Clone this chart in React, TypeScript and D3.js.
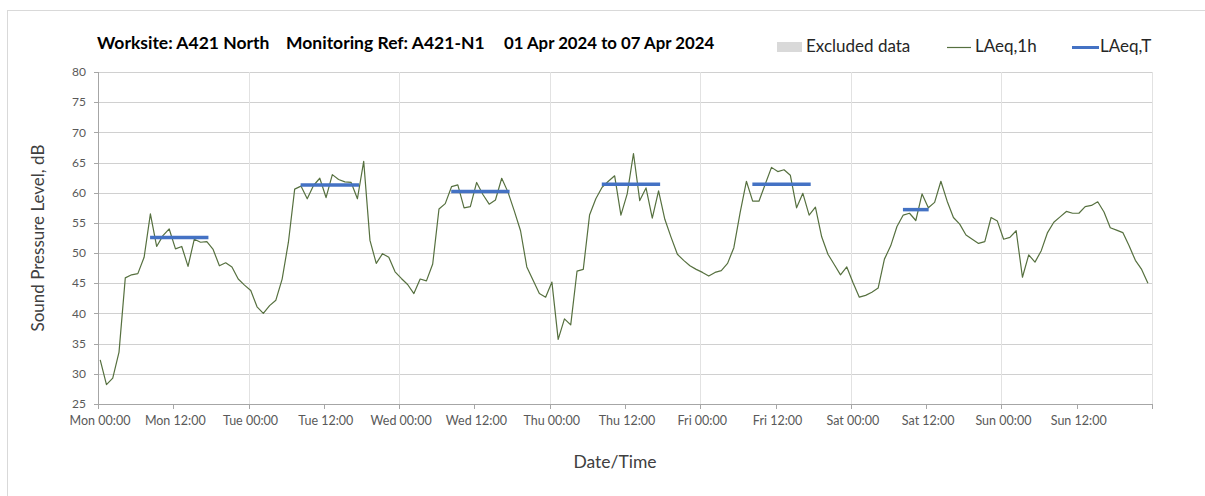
import React from "react";
import * as d3 from "d3";

// ---------- data ----------
const titleParts = ["Worksite: A421 North", "Monitoring Ref: A421-N1", "01 Apr 2024 to 07 Apr 2024"];
const legendLabels = ["Excluded data", "LAeq,1h", "LAeq,T"];
const yTickValues = [25, 30, 35, 40, 45, 50, 55, 60, 65, 70, 75, 80];
const xTickLabels = [
  "Mon 00:00", "Mon 12:00", "Tue 00:00", "Tue 12:00", "Wed 00:00", "Wed 12:00", "Thu 00:00",
  "Thu 12:00", "Fri 00:00", "Fri 12:00", "Sat 00:00", "Sat 12:00", "Sun 00:00", "Sun 12:00",
];
const axisStart = "2024-04-01T00:00:00Z";
const axisEnd = "2024-04-08T00:00:00Z";
const firstReading = "2024-04-01T00:21:00Z";

// hourly LAeq,1h readings (dB)
const laeq1hValues = [
  32.3, 28.2, 29.3, 33.6, 45.9, 46.4, 46.6, 49.3, 56.5, 51.1, 52.9, 54.0,
  50.7, 51.1, 47.8, 52.3, 51.8, 51.9, 50.6, 47.9, 48.4, 47.7, 45.7, 44.7,
  43.8, 41.1, 40.0, 41.3, 42.2, 45.7, 51.8, 60.6, 61.1, 59.0, 61.2, 62.4,
  59.2, 63.0, 62.2, 61.8, 61.7, 59.0, 65.2, 52.1, 48.3, 49.9, 49.3, 46.9,
  45.8, 44.8, 43.3, 45.7, 45.4, 48.2, 57.3, 58.2, 61.0, 61.3, 57.5, 57.7,
  61.7, 59.7, 58.1, 58.8, 62.4, 60.1, 57.0, 53.7, 47.7, 45.5, 43.3, 42.7,
  45.2, 35.7, 39.1, 38.1, 47.0, 47.3, 56.3, 59.0, 60.9, 61.9, 62.8, 56.3,
  59.8, 66.5, 58.7, 60.8, 55.8, 60.3, 55.6, 52.6, 49.8, 48.8, 47.9, 47.3,
  46.8, 46.2, 46.8, 47.1, 48.3, 50.9, 56.7, 61.9, 58.6, 58.6, 61.4, 64.2,
  63.5, 63.8, 62.9, 57.5, 59.9, 56.3, 57.6, 52.7, 49.8, 48.1, 46.4, 47.7,
  45.1, 42.7, 43.0, 43.5, 44.2, 49.0, 51.2, 54.4, 56.3, 56.6, 55.4, 59.8,
  57.5, 58.4, 61.9, 58.6, 55.9, 54.8, 53.0, 52.3, 51.6, 51.9, 55.9, 55.3,
  52.3, 52.6, 53.7, 46.0, 49.7, 48.5, 50.4, 53.4, 55.1, 56.0, 56.9, 56.6,
  56.6, 57.7, 57.9, 58.5, 56.8, 54.2, 53.8, 53.4, 51.2, 48.8, 47.3, 45.0,
];

// LAeq,T periods
const laeqTStarts = [
  "2024-04-01T08:18:00Z", "2024-04-02T08:18:00Z", "2024-04-03T08:18:00Z",
  "2024-04-04T08:18:00Z", "2024-04-05T08:18:00Z", "2024-04-06T08:18:00Z",
];
const laeqTEnds = [
  "2024-04-01T17:36:00Z", "2024-04-02T17:36:00Z", "2024-04-03T17:36:00Z",
  "2024-04-04T17:36:00Z", "2024-04-05T17:36:00Z", "2024-04-06T12:24:00Z",
];
const laeqTValues = [52.6, 61.3, 60.2, 61.4, 61.4, 57.2];

// ---------- layout ----------
const W = 1205;
const H = 496;
const M = { left: 98, right: 1152, top: 72, bottom: 404 };
const FONT = "Lato, 'Open Sans', sans-serif";
const GREEN = "#56703f";
const BLUE = "#4472C4";

export default function App() {
  const x = d3
    .scaleUtc()
    .domain([new Date(axisStart), new Date(axisEnd)])
    .range([M.left, M.right]);
  const y = d3.scaleLinear().domain([25, 80]).range([M.bottom, M.top]);

  const t0 = new Date(firstReading).getTime();
  const readings = laeq1hValues.map((v, i) => ({ t: new Date(t0 + i * 3600000), v }));
  const linePath = d3
    .line<{ t: Date; v: number }>()
    .x((d) => x(d.t))
    .y((d) => y(d.v))(readings) as string;

  const xTicks = d3.utcHour.every(12)!.range(new Date(axisStart), new Date(new Date(axisEnd).getTime() + 1));
  const dayLines = d3.utcDay.range(new Date(new Date(axisStart).getTime() + 1), new Date(new Date(axisEnd).getTime() + 1));

  const periods = laeqTValues.map((v, i) => ({ s: new Date(laeqTStarts[i]), e: new Date(laeqTEnds[i]), v }));

  return (
    <svg
      width={W}
      height={H}
      style={{ position: "absolute", left: 0, top: 0, background: "#fff" }}
      fontFamily={FONT}
    >
      <rect x={7.5} y={10.5} width={1300} height={600} fill="#fff" stroke="#d9d9d9" />

      {/* horizontal gridlines */}
      {yTickValues.filter((v) => v > 25).map((v) => (
        <line key={"hg" + v} x1={M.left} x2={M.right} y1={Math.round(y(v)) + 0.5} y2={Math.round(y(v)) + 0.5} stroke="#d0d0d0" />
      ))}
      {/* vertical day gridlines */}
      {dayLines.map((d, i) => (
        <line key={"vg" + i} x1={Math.round(x(d)) + 0.5} x2={Math.round(x(d)) + 0.5} y1={M.top} y2={M.bottom} stroke="#e2e2e2" />
      ))}

      {/* axes */}
      <line x1={M.left + 0.5} x2={M.left + 0.5} y1={M.top} y2={M.bottom + 0.5} stroke="#a6a6a6" />
      <line x1={M.left} x2={M.right + 0.5} y1={M.bottom + 0.5} y2={M.bottom + 0.5} stroke="#a6a6a6" />
      {yTickValues.map((v) => (
        <g key={"yt" + v}>
          <line x1={M.left - 4} x2={M.left} y1={Math.round(y(v)) + 0.5} y2={Math.round(y(v)) + 0.5} stroke="#a6a6a6" />
          <text x={M.left - 12} y={y(v)} dy="0.35em" textAnchor="end" fontSize={12} fill="#595959">
            {v}
          </text>
        </g>
      ))}
      {xTicks.map((d, i) => (
        <g key={"xt" + i}>
          <line x1={Math.round(x(d)) + 0.5} x2={Math.round(x(d)) + 0.5} y1={M.bottom} y2={M.bottom + 5} stroke="#a6a6a6" />
          {xTickLabels[i] !== undefined && (
            <text x={x(d) + 2} y={M.bottom + 21} textAnchor="middle" fontSize={12.5} fill="#595959">
              {xTickLabels[i]}
            </text>
          )}
        </g>
      ))}

      {/* data */}
      <path d={linePath} fill="none" stroke={GREEN} strokeWidth={1.2} strokeLinejoin="round" />
      {periods.map((p, i) => (
        <line key={"lt" + i} x1={x(p.s)} x2={x(p.e)} y1={y(p.v)} y2={y(p.v)} stroke={BLUE} strokeWidth={3.5} />
      ))}

      {/* title */}
      <text y={49} fontSize={17.5} fontWeight="bold" fill="#000">
        <tspan x={97}>{titleParts[0]}</tspan>
        <tspan x={286}>{titleParts[1]}</tspan>
        <tspan x={504} fontSize={16.8}>{titleParts[2]}</tspan>
      </text>

      {/* legend */}
      <rect x={777} y={42} width={25} height={10} fill="#d9d9d9" />
      <text x={806} y={52} fontSize={17} fill="#262626">{legendLabels[0]}</text>
      <line x1={947} x2={971} y1={47.5} y2={47.5} stroke={GREEN} strokeWidth={1.2} />
      <text x={975} y={52} fontSize={17} fill="#262626">{legendLabels[1]}</text>
      <line x1={1072} x2={1099} y1={47.5} y2={47.5} stroke={BLUE} strokeWidth={3} />
      <text x={1100} y={52} fontSize={17} fill="#262626">{legendLabels[2]}</text>

      {/* axis titles */}
      <text x={615} y={468} textAnchor="middle" fontSize={17.5} fill="#404040">Date/Time</text>
      <text transform="translate(44,238) rotate(-90)" textAnchor="middle" fontSize={17} fill="#404040">
        Sound Pressure Level, dB
      </text>
    </svg>
  );
}
